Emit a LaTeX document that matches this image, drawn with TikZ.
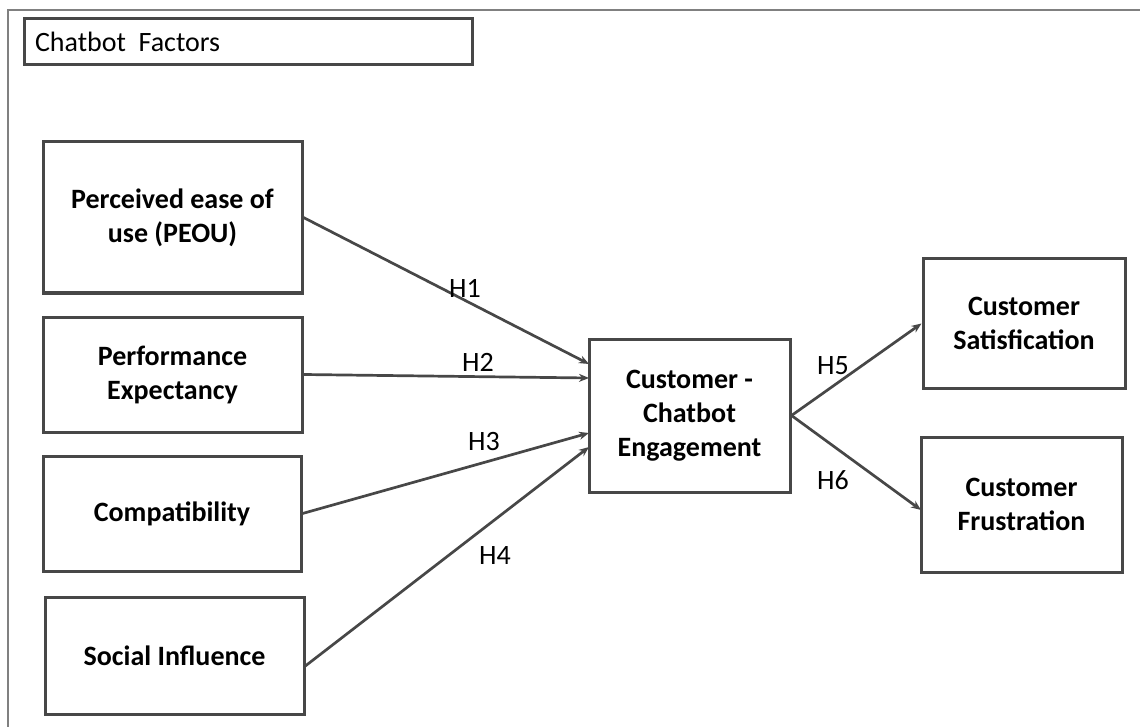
\documentclass[tikz,border=0pt]{standalone}
\usepackage{fontspec}
\setmainfont{Carlito}
\usetikzlibrary{arrows.meta}

\begin{document}
\begin{tikzpicture}[x=1pt, y=-1pt,
        factor/.style={draw=black!72, line width=3pt, inner sep=0pt, align=center,
            font=\bfseries\fontsize{28}{34}\selectfont},
        link/.style={-{Stealth[length=10pt,width=8pt]}, line width=2.7pt, draw=black!72},
        hyp/.style={font=\fontsize{28}{32}\selectfont}]
        \useasboundingbox (0, 0) rectangle (1140, 727);
        \draw[line width=2.4pt, black!50] (8, 727) -- (8, 10) -- (1140, 10);

        \node[draw=black!72, line width=3pt, minimum width=448pt, minimum height=46pt, inner sep=0pt] (title) at (248, 42) {};
        \node[anchor=west, font=\fontsize{28}{32}\selectfont] at (title.west) {\hspace{9pt}Chatbot\ \ Factors};

        \node[factor, minimum width=259pt, minimum height=151pt] (peou) at (172.5, 217.5) {Perceived ease of\\use (PEOU)};
        \node[factor, minimum width=259pt, minimum height=115pt] (perf) at (172.5, 374.5) {Performance\\Expectancy};
        \node[factor, minimum width=258pt, minimum height=115pt] (comp) at (172, 513.5) {Compatibility};
        \node[factor, minimum width=259pt, minimum height=117pt] (social) at (174.5, 655.5) {Social Influence};
        \node[factor, minimum width=201pt, minimum height=153pt] (engage) at (689.5, 415.5) {Customer -\\Chatbot\\Engagement};
        \node[factor, minimum width=202pt, minimum height=129pt] (satis) at (1024, 323.5) {Customer\\Satisfication};
        \node[factor, minimum width=201pt, minimum height=135pt] (frust) at (1021.5, 504.5) {Customer\\Frustration};

        \coordinate (in1) at (589, 364);
        \coordinate (in2) at (589, 378);
        \coordinate (in3) at (589, 433);
        \coordinate (in4) at (589, 447);
        \coordinate (out4) at (304, 667);
        \coordinate (out6) at (921, 510);

        \draw[link] (peou.east) -- (in1);
        \draw[link] (perf.east) -- (in2);
        \draw[link] (comp.east) -- (in3);
        \draw[link] (out4) -- (in4);
        \draw[link] (engage.east) -- (satis.west);
        \draw[link] (engage.east) -- (out6);

        \node[hyp] (h1) at (465, 288) {H1};
        \node[hyp] (h2) at (478, 362) {H2};
        \node[hyp] (h3) at (484, 442) {H3};
        \node[hyp] (h4) at (495, 556) {H4};
        \node[hyp] (h5) at (833, 366) {H5};
        \node[hyp] (h6) at (833, 480) {H6};
    \end{tikzpicture}
\end{document}
